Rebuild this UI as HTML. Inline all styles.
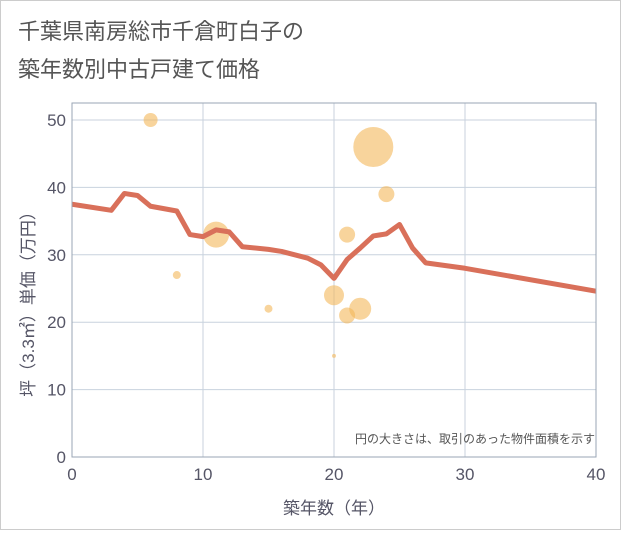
<!DOCTYPE html>
<html><head><meta charset="utf-8"><style>
body{margin:0;background:#fff;font-family:"Liberation Sans","Noto Sans CJK JP",sans-serif}
svg text{font-family:"Liberation Sans","Noto Sans CJK JP",sans-serif}
</style></head><body>
<svg width="621" height="530">
<rect x="0.5" y="0.5" width="620" height="529" fill="#fff" stroke="#ccc"/>
<text x="18" y="39" font-size="22" fill="#555">千葉県南房総市千倉町白子の</text>
<text x="18" y="77" font-size="22" fill="#555">築年数別中古戸建て価格</text>
<g id="grid"></g>
<g id="bubbles"></g>
<g id="line"></g>
<g id="axes"></g>
<text x="595" y="443" font-size="12" fill="#555" text-anchor="end">円の大きさは、取引のあった物件面積を示す</text>
<text x="334" y="514" font-size="17" fill="#556" text-anchor="middle">築年数（年）</text>
<text transform="translate(34,300) rotate(-90)" font-size="17" fill="#556" text-anchor="middle">坪（3.3㎡）単価（万円）</text>
</svg>
<script>
const xTicks=[0,10,20,30,40];
const yTicks=[0,10,20,30,40,50];
const lineX=[0,3,4,5,6,8,9,10,11,12,13,15,16,18,19,20,21,22,23,24,25,26,27,30,40];
const lineY=[37.5,36.6,39.1,38.8,37.2,36.5,33,32.7,33.7,33.4,31.2,30.8,30.5,29.5,28.5,26.5,29.3,31,32.8,33.1,34.5,31,28.8,28,24.6];
const bubX=[6,8,11,15,20,20,21,21,22,23,24];
const bubY=[50,27,33,22,15,24,21,33,22,46,39];
const bubR=[7,4,13,4,2,10,8,8,11,20,8];
const NS="http://www.w3.org/2000/svg";
const X0=72,X1=596,Y0=457,Y50=120,TOP=103;
const sx=v=>X0+(X1-X0)*v/40, sy=v=>Y0+(Y50-Y0)*v/50;
function mk(t,a,p){const e=document.createElementNS(NS,t);for(const k in a)e.setAttribute(k,a[k]);p.appendChild(e);return e;}
const g=document.getElementById('grid'),ax=document.getElementById('axes');
xTicks.forEach(t=>{const l=mk('line',{x1:sx(t),x2:sx(t),y1:TOP,y2:Y0,stroke:'#c8d2de'},g);


const tx=mk('text',{x:sx(t),y:Y0+23,'font-size':17,fill:'#556','text-anchor':'middle'},ax);tx.textContent=t;

});
yTicks.forEach(t=>{const l=mk('line',{x1:X0,x2:X1,y1:sy(t),y2:sy(t),stroke:'#c8d2de'},g);


const tx=mk('text',{x:X0-6,y:sy(t)+6,'font-size':17,fill:'#556','text-anchor':'end'},ax);tx.textContent=t;

});
const fr=mk('rect',{x:X0,y:TOP,width:X1-X0,height:Y0-TOP,fill:'none',stroke:'#9aa6b4'},ax);


const bg=document.getElementById('bubbles');
bubX.forEach((x,i)=>{const c=mk('circle',{cx:sx(x),cy:sy(bubY[i]),r:bubR[i],fill:'#f3b75a','fill-opacity':0.6},bg);

});
const p=mk('polyline',{points:lineX.map((x,i)=>sx(x)+','+sy(lineY[i])).join(' '),fill:'none',stroke:'#d9705a','stroke-width':5,'stroke-linejoin':'round'},document.getElementById('line'));


</script>
</body></html>
